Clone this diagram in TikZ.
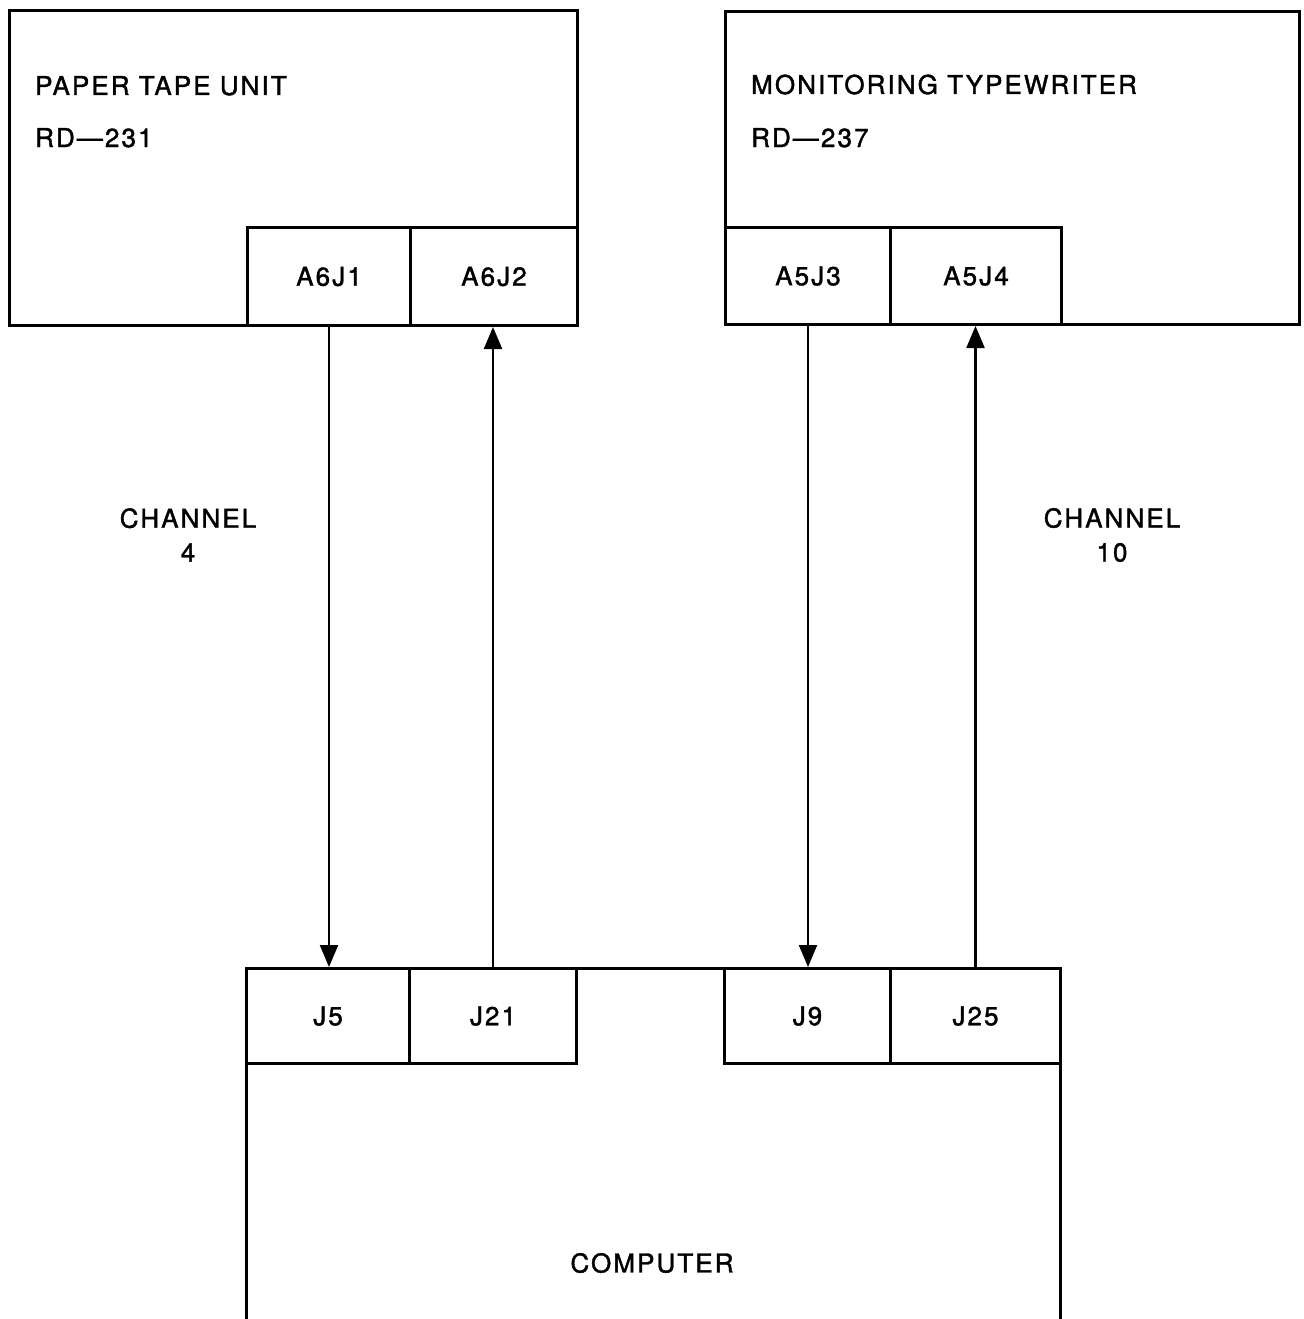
\documentclass[tikz,border=0pt]{standalone}
\usepackage{fontspec}
\setmainfont{TeX Gyre Heros}[LetterSpace=8,FakeBold=1.5]
\usetikzlibrary{arrows.meta}
\newcommand\lblfont{\fontsize{26}{34}\selectfont}
\tikzset{
  box/.style={draw, line width=3pt, inner sep=0pt, anchor=north west},
  conn/.style={box, font=\lblfont},
  txt/.style={inner sep=0pt, font=\lblfont},
  sig/.style={line width=2.2pt, -{Triangle[length=22pt,width=18pt]}},
}
\begin{document}
\begin{tikzpicture}[x=1pt,y=-1pt]
\useasboundingbox (0,0) rectangle (1303,1319);
\clip (0,0) rectangle (1303,1319);
% paper tape unit
\node[box, minimum width=568pt, minimum height=315pt] (ptu) at (8,9) {};
\node[conn, minimum width=163pt, minimum height=98pt] (a6j1) at (246,226) {A6J1};
\node[conn, minimum width=167pt, minimum height=98pt] (a6j2) at (409,226) {A6J2};
\node[txt, anchor=base west] (ptut) at (35,95) {PAPER TAPE UNIT};
\node[txt, anchor=base west] (ptun) at (35,147) {RD—231};
% monitoring typewriter
\node[box, minimum width=574pt, minimum height=313pt] (mt) at (724,10) {};
\node[conn, minimum width=165pt, minimum height=97pt] (a5j3) at (724,226) {A5J3};
\node[conn, minimum width=171pt, minimum height=97pt] (a5j4) at (889,226) {A5J4};
\node[txt, anchor=base west] (mtt) at (751,94) {MONITORING TYPEWRITER};
\node[txt, anchor=base west] (mtn) at (751,147) {RD—237};
% computer
\node[box, minimum width=814pt, minimum height=400pt] (comp) at (245,967) {};
\node[conn, minimum width=163pt, minimum height=95pt] (j5) at (245,967) {J5};
\node[conn, minimum width=167pt, minimum height=95pt] (j21) at (408,967) {J21};
\node[conn, minimum width=166pt, minimum height=95pt] (j9) at (723,967) {J9};
\node[conn, minimum width=170pt, minimum height=95pt] (j25) at (889,967) {J25};
\node[txt] (compt) at (652,1263) {COMPUTER};
% channel labels
\node[txt, align=center] (ch4) at (188,535) {CHANNEL\\4};
\node[txt, align=center] (ch10) at (1112,535) {CHANNEL\\10};
% signal lines
\draw[sig] (a6j1.south) -- (a6j1.south |- j5.north);
\draw[sig] (j21.north) -- (j21.north |- a6j2.south);
\draw[sig] (a5j3.south) -- (a5j3.south |- j9.north);
\draw[sig] (j25.north) -- (j25.north |- a5j4.south);
\end{tikzpicture}
\end{document}
